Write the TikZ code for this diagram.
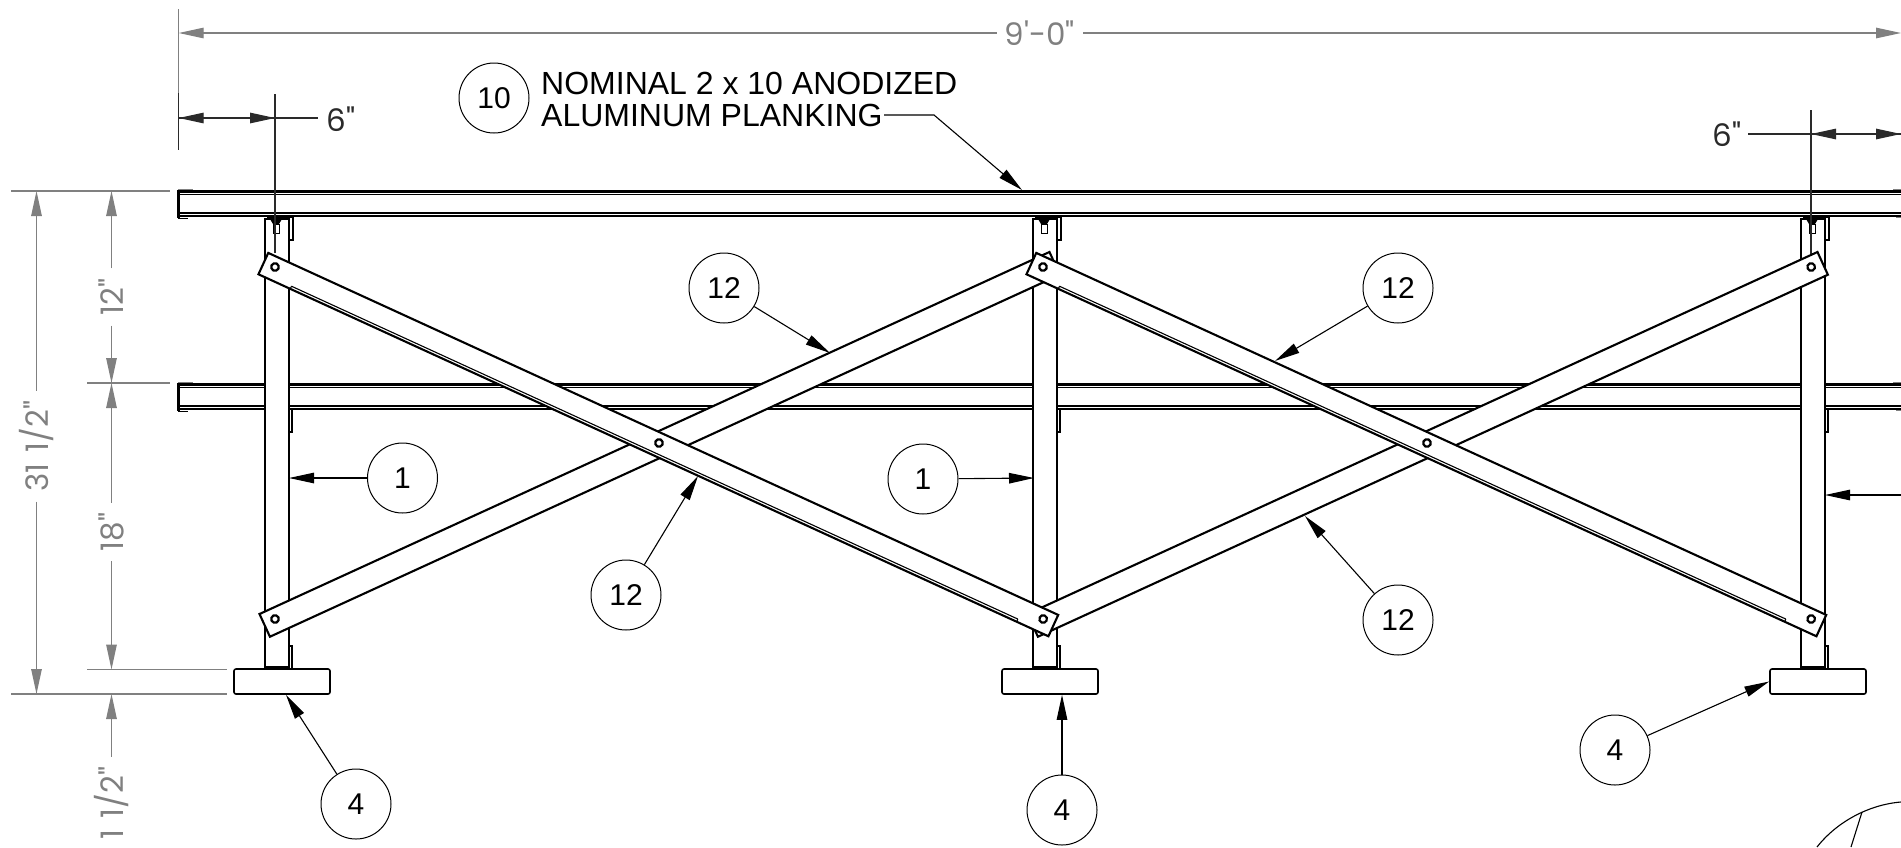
\documentclass[tikz,border=0pt]{standalone}
\usepackage{fontspec}
\setmainfont{Liberation Sans}
\newfontfamily\dimfont{Poppins}
\usepackage{tikz}
\usetikzlibrary{arrows.meta}
\definecolor{dimgray}{HTML}{808080}
\definecolor{darkdim}{HTML}{2A2A2A}

\begin{document}
\begin{tikzpicture}[x=1pt,y=-1pt,
    part/.style={line width=2.1pt},
    balloon/.style={draw,circle,minimum size=70pt,inner sep=0pt,line width=1pt,font=\fontsize{30}{30}\selectfont},
    leader/.style={line width=1.1pt,-{Triangle[length=25pt,width=10.5pt]}},
    extline/.style={dimgray,line width=1.2pt},
    dimarrow/.style={dimgray,line width=1.2pt,-{Triangle[length=25pt,width=10.5pt]}},
    blackdim/.style={darkdim,line width=1.2pt,-{Triangle[length=25pt,width=10.5pt]}},
    dimtext/.style={dimgray,inner ysep=0pt,inner xsep=10pt,font=\dimfont\fontsize{31}{31}\selectfont},
    blacktext/.style={darkdim,inner sep=0pt,font=\dimfont\fontsize{31}{31}\selectfont},
    footbox/.style={draw,fill=white,rounded corners=2pt,minimum width=96pt,minimum height=25pt,inner sep=0pt,line width=1.6pt}]
  \useasboundingbox (0,0) rectangle (1901,847);

  % planks
  \foreach \py in {0,193} {
    \begin{scope}[shift={(0,\py)}]
      \draw[line width=3pt] (178,191) -- (1901,191);
      \draw[line width=1.4pt] (178,194.2) -- (1901,194.2);
      \draw[line width=2.3pt] (178,212.8) -- (1901,212.8);
      \draw[line width=2.1pt] (178,216) -- (1901,216);
      \draw[line width=3.4pt] (178.7,190) -- (178.7,218);
      \draw[line width=1pt] (178,218) -- (188,218);
      \draw[dimgray,line width=1pt] (178,189) -- (193,189);
      \draw[dimgray,line width=1pt] (1893,189) -- (1901,189);
      \draw[dimgray,line width=1pt] (1896,217.5) -- (1901,217.5);
    \end{scope}
  }

  % posts, clips and bolts
  \foreach \px in {265,1033,1801} {
    \begin{scope}[shift={(\px,0)}]
      \draw[part,fill=white] (0,219) rectangle (24,667);
      \draw[line width=1.2pt] (2,217) -- (28,217) -- (28,240) -- (24,240);
      \draw[line width=1.2pt] (24,409) -- (27,409) -- (27,432) -- (24,432);
      \draw[line width=1.2pt] (24,646) -- (27,646) -- (27,669);
      \draw[line width=1.2pt] (2,667) -- (2,669);
      \fill (5,219) -- (17,219) -- (14,224) -- (8,224) -- cycle;
      \draw[line width=1pt] (8,224) rectangle (14,233);
    \end{scope}
  }

  % extension lines
  \coordinate (extA) at (178.7,9);
  \coordinate (extB) at (178.7,93);
  \coordinate (extC) at (178.7,150);
  \coordinate (extD) at (275,94);
  \coordinate (extE) at (275,253);
  \coordinate (extF) at (1811,110);
  \coordinate (extG) at (1811,254);
  \draw[extline] (extA) -- (extB);
  \draw[darkdim,line width=1.2pt] (extB) -- (extC);
  \draw[darkdim,line width=1.2pt] (extD) -- (extE);
  \draw[darkdim,line width=1.2pt] (extF) -- (extG);

  % braces
  \foreach \bx in {275,1043} {
    \begin{scope}[shift={(\bx,619)},rotate=24.62]
      \draw[part,fill=white] (-12,-11) rectangle (857,14);
      \draw[line width=2.2pt,fill=white] (0,0) circle (3.8pt);
      \draw[line width=2.2pt,fill=white] (845,0) circle (3.8pt);
    \end{scope}
  }
  \foreach \bx in {275,1043} {
    \begin{scope}[shift={(\bx,267)},rotate=-24.62]
      \draw[part,fill=white] (-12,-10) rectangle (857,13.5);
      \draw[line width=1.1pt] (23,10.6) -- (822,10.6);
      \draw[line width=1.1pt] (23,10.6) -- (23,13.5);
      \draw[line width=1.1pt] (822,10.6) -- (822,13.5);
      \draw[line width=2.2pt,fill=white] (0,0) circle (3.8pt);
      \draw[line width=2.2pt,fill=white] (422.4,0) circle (3.8pt);
      \draw[line width=2.2pt,fill=white] (845,0) circle (3.8pt);
    \end{scope}
  }

  % feet
  \node[footbox] (footA) at (282,681.5) {};
  \node[footbox] (footB) at (1050,681.5) {};
  \node[footbox] (footC) at (1818,681.5) {};

  % overall dimensions
  \node[dimtext,inner xsep=8pt] (dimWidth) at (1040,33) {9'-0"};
  \coordinate (widthL) at (178.7,33);
  \coordinate (widthR) at (1901,33);
  \draw[dimarrow] (dimWidth) -- (widthL);
  \draw[dimarrow] (dimWidth) -- (widthR);

  \coordinate (leftA) at (11,191);
  \coordinate (leftB) at (170,191);
  \coordinate (leftC) at (87,383);
  \coordinate (leftD) at (170,383);
  \coordinate (leftE) at (87,669.5);
  \coordinate (leftF) at (227,669.5);
  \coordinate (leftG) at (11,694);
  \coordinate (leftH) at (227,694);
  \draw[extline] (leftA) -- (leftB);
  \draw[extline] (leftC) -- (leftD);
  \draw[extline] (leftE) -- (leftF);
  \draw[extline] (leftG) -- (leftH);

  \node[dimtext,rotate=90] (dimHigh) at (36.5,446) {31\hspace{0.35em}1/2"};
  \coordinate (highT) at (36.5,191);
  \coordinate (highB) at (36.5,694);
  \draw[dimarrow] (dimHigh) -- (highT);
  \draw[dimarrow] (dimHigh) -- (highB);

  \node[dimtext,rotate=90] (dimUpper) at (111.5,297) {12"};
  \coordinate (upperT) at (111.5,191);
  \coordinate (upperB) at (111.5,383);
  \draw[dimarrow] (dimUpper) -- (upperT);
  \draw[dimarrow] (dimUpper) -- (upperB);

  \node[dimtext,rotate=90] (dimLower) at (111.5,532) {18"};
  \coordinate (lowerT) at (111.5,383);
  \coordinate (lowerB) at (111.5,669.5);
  \draw[dimarrow] (dimLower) -- (lowerT);
  \draw[dimarrow] (dimLower) -- (lowerB);

  \node[dimtext,rotate=90] (dimFoot) at (111.5,803) {1\hspace{0.35em}1/2"};
  \coordinate (footT) at (111.5,694);
  \draw[dimarrow] (dimFoot) -- (footT);

  % post offset dimensions
  \node[blacktext] (offsetL) at (341,119) {6"};
  \node[blacktext] (offsetR) at (1727,134) {6"};
  \coordinate (offLa) at (178.7,118);
  \coordinate (offLb) at (275,118);
  \coordinate (offLc) at (318,118);
  \coordinate (offRa) at (1748,134);
  \coordinate (offRb) at (1811,134);
  \coordinate (offRc) at (1901,134);
  \draw[blackdim] (offLb) -- (offLa);
  \draw[blackdim] (offLa) -- (offLb);
  \draw[darkdim,line width=1.2pt] (offLb) -- (offLc);
  \draw[darkdim,line width=1.2pt] (offRa) -- (offRb);
  \draw[blackdim] (offRc) -- (offRb);
  \draw[blackdim] (offRb) -- (offRc);

  % plank note
  \node[balloon] (itemTen) at (494,98) {10};
  \node[align=left,anchor=west,inner sep=0pt,font=\fontsize{32}{32}\selectfont] (note) at (541,99) {NOMINAL 2 x 10 ANODIZED\\ALUMINUM PLANKING};
  \coordinate (noteA) at (884,115);
  \coordinate (noteB) at (934,115);
  \coordinate (noteC) at (1022,190);
  \draw[leader] (noteA) -- (noteB) -- (noteC);

  % balloons
  \node[balloon] (itemTwelveA) at (724,288) {12};
  \node[balloon] (itemTwelveB) at (1398,288) {12};
  \node[balloon] (itemTwelveC) at (626,595) {12};
  \node[balloon] (itemTwelveD) at (1398,620) {12};
  \node[balloon] (itemOneA) at (402.5,478) {1};
  \node[balloon] (itemOneB) at (923,479) {1};
  \node[balloon] (itemFourA) at (356,804) {4};
  \node[balloon] (itemFourB) at (1062,810) {4};
  \node[balloon] (itemFourC) at (1615,750) {4};

  \coordinate (tipTwelveA) at (830,353);
  \coordinate (tipTwelveB) at (1275,361);
  \coordinate (tipTwelveC) at (698,476);
  \coordinate (tipTwelveD) at (1305,516);
  \coordinate (tipOneA) at (289,478);
  \coordinate (tipOneB) at (1034,478);
  \coordinate (tipOneC) at (1825,495);
  \coordinate (tailOneC) at (1901,495);

  \draw[leader] (itemTwelveA) -- (tipTwelveA);
  \draw[leader] (itemTwelveB) -- (tipTwelveB);
  \draw[leader] (itemTwelveC) -- (tipTwelveC);
  \draw[leader] (itemTwelveD) -- (tipTwelveD);
  \draw[leader] (itemOneA) -- (tipOneA);
  \draw[leader] (itemOneB) -- (tipOneB);
  \draw[leader] (tailOneC) -- (tipOneC);
  \draw[leader] (itemFourA) -- ([xshift=4pt]footA.south);
  \draw[leader] (itemFourB) -- ([xshift=12pt]footB.south);
  \draw[leader] (itemFourC) -- (footC.west);

  % detail circle at the corner
  \draw[line width=1.1pt] (1817,847) .. controls (1837,821.6) and (1869,804.6) .. (1901,802);
  \draw[line width=1.1pt] (1862,812) -- (1851,847);
\end{tikzpicture}
\end{document}
